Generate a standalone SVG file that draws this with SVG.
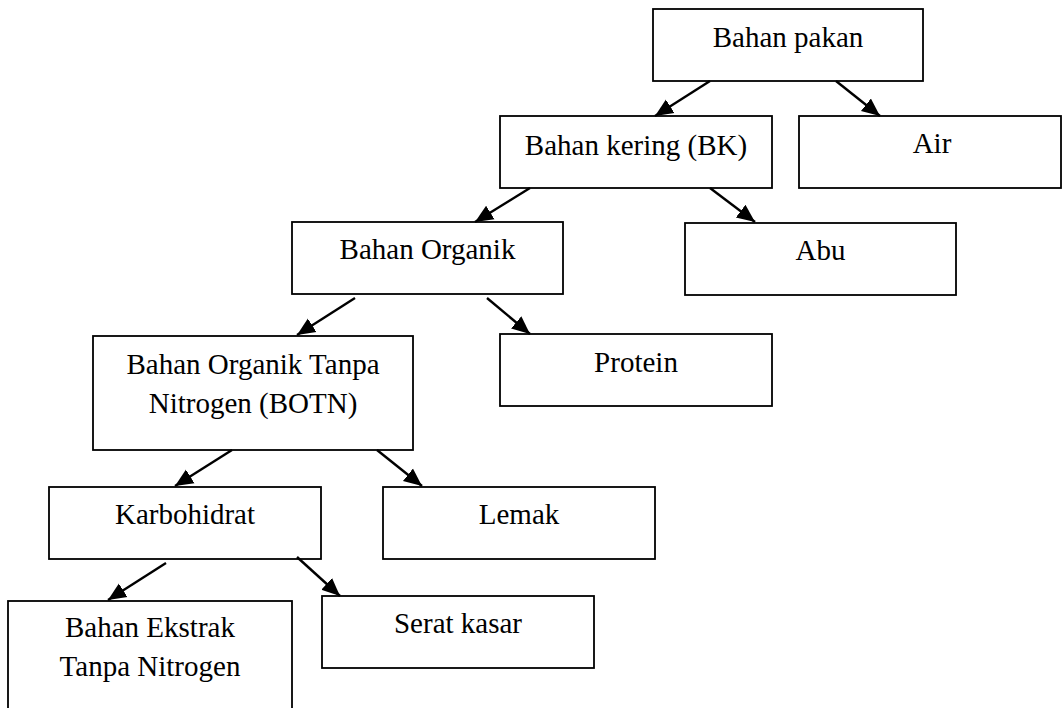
<svg xmlns="http://www.w3.org/2000/svg" width="1063" height="708" viewBox="0 0 1063 708">
<style>
.box{fill:#fff;stroke:#000;stroke-width:1.8}
.lbl{font-family:"Liberation Serif","Times New Roman",serif;font-size:29px;fill:#000;text-anchor:middle}
.conn{stroke:#000;stroke-width:2.4;fill:none;marker-end:url(#ah)}
</style>
<defs>
<marker id="ah" markerUnits="userSpaceOnUse" markerWidth="20" markerHeight="20" viewBox="0 0 20 20" refX="18" refY="10" orient="auto">
<path d="M0,2 L18,10 L0,18 Z" fill="#000"/>
</marker>
</defs>
<rect width="1063" height="708" fill="#fff"/>
<g id="n-pakan"><rect class="box" x="653" y="9" width="270" height="72"/><text class="lbl" x="788" y="47">Bahan pakan</text></g>
<g id="n-kering"><rect class="box" x="500" y="116" width="272" height="72"/><text class="lbl" x="636" y="155">Bahan kering (BK)</text></g>
<g id="n-air"><rect class="box" x="799" y="116" width="262" height="72"/><text class="lbl" x="932" y="153">Air</text></g>
<g id="n-organik"><rect class="box" x="292" y="222" width="271" height="72"/><text class="lbl" x="427.5" y="259">Bahan Organik</text></g>
<g id="n-abu"><rect class="box" x="685" y="223" width="271" height="72"/><text class="lbl" x="820.5" y="260">Abu</text></g>
<g id="n-botn"><rect class="box" x="93" y="336" width="320" height="114"/><text class="lbl" x="253" y="374">Bahan Organik Tanpa</text><text class="lbl" x="253" y="413">Nitrogen (BOTN)</text></g>
<g id="n-protein"><rect class="box" x="500" y="334" width="272" height="72"/><text class="lbl" x="636" y="372">Protein</text></g>
<g id="n-karbo"><rect class="box" x="49" y="487" width="272" height="72"/><text class="lbl" x="185" y="524">Karbohidrat</text></g>
<g id="n-lemak"><rect class="box" x="383" y="487" width="272" height="72"/><text class="lbl" x="519" y="524">Lemak</text></g>
<g id="n-betn"><rect class="box" x="8" y="601" width="284" height="120"/><text class="lbl" x="150" y="637">Bahan Ekstrak</text><text class="lbl" x="150" y="676">Tanpa Nitrogen</text></g>
<g id="n-serat"><rect class="box" x="322" y="596" width="272" height="72"/><text class="lbl" x="458" y="633">Serat kasar</text></g>
<g id="connectors">
<line class="conn" x1="710" y1="81" x2="655" y2="116"/>
<line class="conn" x1="836" y1="81" x2="880" y2="116"/>
<line class="conn" x1="530" y1="188" x2="475" y2="222"/>
<line class="conn" x1="710" y1="188" x2="755" y2="222"/>
<line class="conn" x1="355" y1="298" x2="297" y2="335"/>
<line class="conn" x1="487" y1="298" x2="530" y2="334"/>
<line class="conn" x1="232" y1="450" x2="175" y2="486"/>
<line class="conn" x1="377" y1="450" x2="422" y2="486"/>
<line class="conn" x1="166" y1="563" x2="108" y2="600"/>
<line class="conn" x1="297" y1="557" x2="340" y2="596"/>
</g>
</svg>
